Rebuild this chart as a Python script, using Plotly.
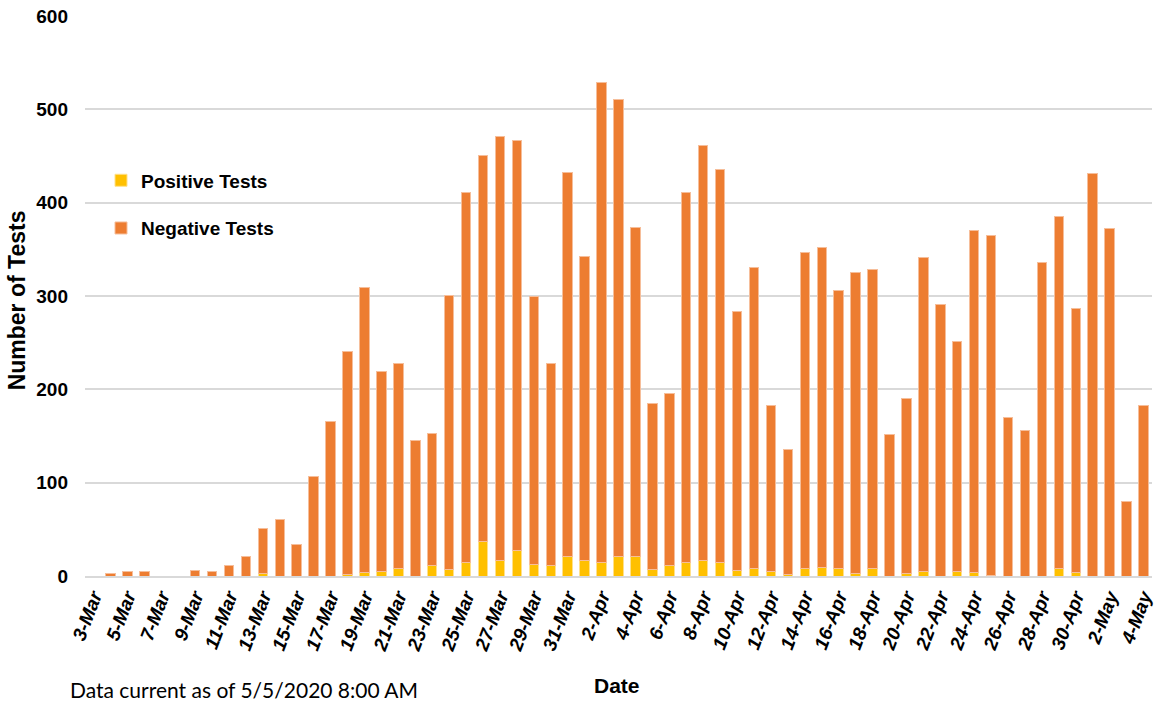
import plotly.graph_objects as go

dates = ["3-Mar", "4-Mar", "5-Mar", "6-Mar", "7-Mar", "8-Mar", "9-Mar", "10-Mar", "11-Mar", "12-Mar",
         "13-Mar", "14-Mar", "15-Mar", "16-Mar", "17-Mar", "18-Mar", "19-Mar", "20-Mar", "21-Mar", "22-Mar",
         "23-Mar", "24-Mar", "25-Mar", "26-Mar", "27-Mar", "28-Mar", "29-Mar", "30-Mar", "31-Mar",
         "1-Apr", "2-Apr", "3-Apr", "4-Apr", "5-Apr", "6-Apr", "7-Apr", "8-Apr", "9-Apr", "10-Apr",
         "11-Apr", "12-Apr", "13-Apr", "14-Apr", "15-Apr", "16-Apr", "17-Apr", "18-Apr", "19-Apr", "20-Apr",
         "21-Apr", "22-Apr", "23-Apr", "24-Apr", "25-Apr", "26-Apr", "27-Apr", "28-Apr", "29-Apr", "30-Apr",
         "1-May", "2-May", "3-May", "4-May"]

positive_tests = [0, 0, 0, 0, 0, 0, 0, 0, 0, 0,
                  3, 0, 0, 0, 0, 2, 4, 5, 8, 0,
                  11, 7, 14, 37, 17, 27, 12, 11, 21,
                  17, 14, 21, 21, 7, 11, 14, 17, 15, 6,
                  8, 5, 2, 8, 9, 8, 3, 8, 0, 3,
                  5, 0, 5, 4, 1, 0, 0, 0, 8, 4,
                  0, 0, 0, 0]

negative_tests = [0, 3, 5, 5, 0, 0, 6, 5, 11, 21,
                  48, 61, 34, 107, 166, 238, 305, 214, 220, 145,
                  142, 293, 397, 413, 454, 440, 287, 217, 411,
                  325, 515, 489, 352, 178, 184, 397, 444, 421, 277,
                  323, 178, 133, 339, 343, 298, 322, 320, 152, 187,
                  336, 291, 246, 366, 364, 170, 156, 336, 377, 283,
                  431, 372, 80, 183]

tick_labels = dates[::2]
y_ticks = [0, 100, 200, 300, 400, 500, 600]

FONT = "Liberation Sans, Arial, sans-serif"
YELLOW = "#FFC000"
ORANGE = "#ED7D31"

fig = go.Figure()
fig.add_trace(go.Bar(
    x=dates, y=positive_tests, name="Positive Tests",
    marker=dict(color=YELLOW, line=dict(color="#FFE08A", width=1)),
    legendgroup="pos",
))
fig.add_trace(go.Bar(
    x=dates, y=negative_tests, name="Negative Tests",
    marker=dict(color=ORANGE, line=dict(color="#F6BE9A", width=1)),
    legendgroup="neg",
))

fig.update_layout(
    width=1157, height=702,
    margin=dict(l=85, r=0, t=15, b=126),
    barmode="stack", bargap=0.44,
    plot_bgcolor="white", paper_bgcolor="white",
    font=dict(family=FONT, color="black"),
    showlegend=True,
    legend=dict(
        x=0.015, y=0.739, xanchor="left", yanchor="top",
        traceorder="grouped", tracegroupgap=20,
        font=dict(family=FONT, size=19, color="black", weight="bold"),
        bgcolor="rgba(0,0,0,0)",
    ),
    xaxis=dict(
        type="category",
        tickmode="array", tickvals=tick_labels, ticktext=tick_labels,
        tickangle=-69,
        tickfont=dict(family=FONT, size=19, color="black", weight="bold", style="italic"),
        showgrid=False, showline=True, linecolor="#D9D9D9", linewidth=2,
        ticks="", ticklen=0,
    ),
    yaxis=dict(
        range=[0, 601], tickvals=y_ticks,
        tickfont=dict(family=FONT, size=19, color="black", weight="bold"),
        showgrid=True, gridcolor="#D9D9D9", gridwidth=1.5,
        zeroline=False, showline=False,
        ticks="", ticklabelstandoff=16, ticklabeloverflow="allow",
    ),
    annotations=[
        dict(text="Number of Tests", textangle=-90, xref="paper", yref="paper",
             x=-0.0634, y=0.492, xanchor="center", yanchor="middle", showarrow=False,
             font=dict(family=FONT, size=23, color="black", weight="bold")),
        dict(text="Date", xref="paper", yref="paper",
             x=0.499, y=-0.1943, xanchor="center", yanchor="middle", showarrow=False,
             font=dict(family=FONT, size=21, color="black", weight="bold")),
        dict(text="Data current as of 5/5/2020 8:00 AM", xref="paper", yref="paper",
             x=-0.0159, y=-0.1765, xanchor="left", yanchor="top", showarrow=False,
             font=dict(family="Lato, Open Sans, sans-serif", size=21, color="black")),
    ],
)

# remove the browser's default 8px body margin so the figure sits at the page origin
fig.write_html("out.html", config={"displayModeBar": False},
               post_script="document.body.style.margin='0px';")
